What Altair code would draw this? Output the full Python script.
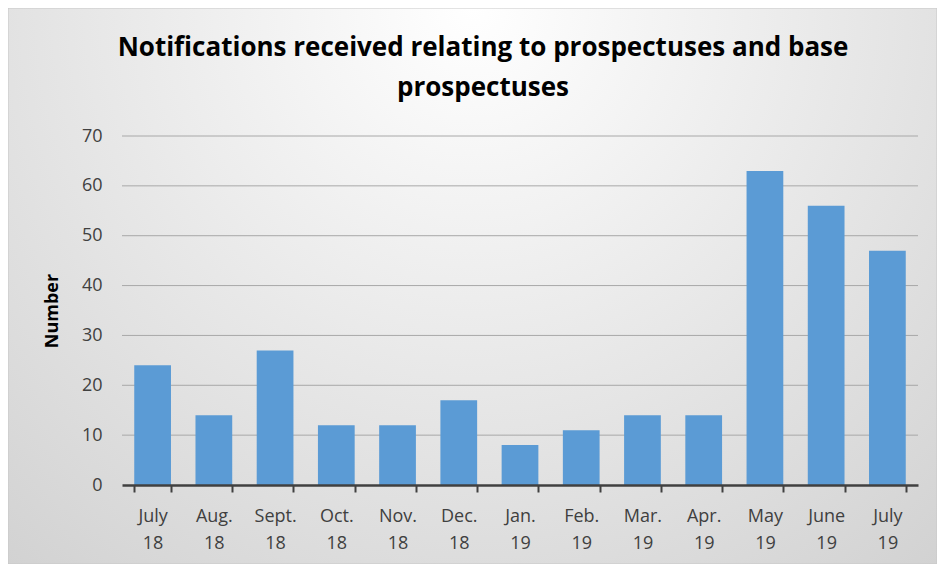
import altair as alt
import pandas as pd

months = ["July 18", "Aug. 18", "Sept. 18", "Oct. 18", "Nov. 18", "Dec. 18",
          "Jan. 19", "Feb. 19", "Mar. 19", "Apr. 19", "May 19", "June 19", "July 19"]
values = [24, 14, 27, 12, 12, 17, 8, 11, 14, 14, 63, 56, 47]
y_ticks = [0, 10, 20, 30, 40, 50, 60, 70]
title_lines = ["Notifications received relating to prospectuses and base", "prospectuses"]

df = pd.DataFrame({"month": months, "value": values})
grid_df = pd.DataFrame({"value": y_ticks[1:]})

FONT = "Open Sans"

grad = alt.RadialGradient(
    gradient="radial",
    stops=[alt.GradientStop(offset=0, color="#ffffff"),
           alt.GradientStop(offset=1, color="#cecece")],
    x1=0.5, y1=0.2, r1=0, x2=0.5, y2=0.2, r2=0.85,
)

bg = alt.Chart(pd.DataFrame({"a": [0]})).mark_rect(fill=grad, stroke="#c8c8c8", strokeWidth=1).encode(
    x=alt.value(-114), x2=alt.value(815), y=alt.value(-128), y2=alt.value(428)
)

title = alt.Chart(pd.DataFrame({"a": [0]})).mark_text(
    font=FONT, fontSize=26, fontWeight="bold", color="#000000",
    align="center", baseline="alphabetic", lineHeight=40, lineBreak="\n",
).encode(x=alt.value(361), y=alt.value(-80), text=alt.value("\n".join(title_lines)))

yscale = alt.Scale(domain=[0, 70], nice=False)
yaxis = alt.Axis(values=y_ticks, domain=False, ticks=False, grid=False,
                 labelFont=FONT, labelFontSize=18, labelColor="#404040",
                 labelPadding=20, zindex=1,
                 titleFont=FONT, titleFontSize=18, titleFontWeight="bold",
                 titleColor="#000000", titlePadding=20)

grid = alt.Chart(grid_df).mark_rule(color="#a8a8a8", strokeWidth=1).encode(
    y=alt.Y("value:Q", scale=yscale, axis=yaxis, title="Number"),
    x=alt.value(0), x2=alt.value(796),
)

bars = alt.Chart(df).mark_bar(color="#5B9BD5").encode(
    x=alt.X("month:N", sort=months, title=None,
            scale=alt.Scale(paddingInner=0.4, paddingOuter=0.2),
            axis=alt.Axis(labelExpr="split(datum.label, ' ')", labelAngle=0,
                          labelFont=FONT, labelFontSize=18, labelColor="#404040",
                          labelLineHeight=27, labelPadding=15,
                          domainColor="#404040", domainWidth=2.5,
                          tickColor="#404040", tickWidth=2, tickSize=7,
                          tickBand="extent", grid=False, zindex=1)),
    y=alt.Y("value:Q", title="Number", scale=yscale, axis=yaxis),
)

chart = alt.layer(bg, grid, bars, title).properties(
    width=796, height=349,
    autosize=alt.AutoSizeParams(type="none"),
    padding={"left": 114, "top": 128, "right": 19, "bottom": 79},
).configure_view(stroke=None).configure(background="#ffffff")

chart.save("out.html", embed_options={"renderer": "svg", "actions": False})
